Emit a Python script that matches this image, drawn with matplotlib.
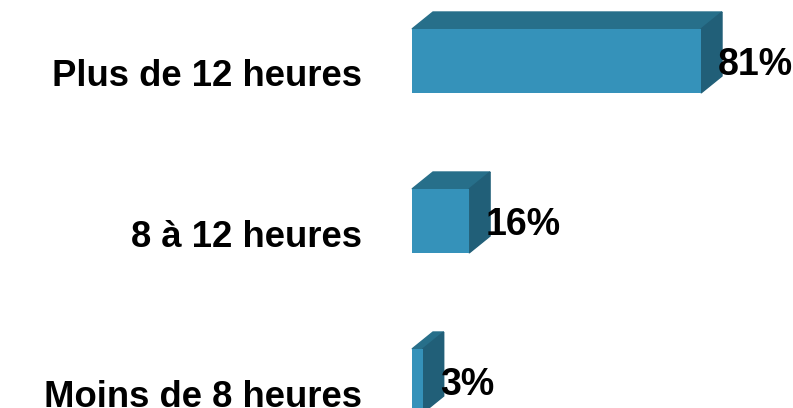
import matplotlib
matplotlib.use("Agg")
import matplotlib.pyplot as plt
from matplotlib.patches import Polygon

categories = ["Plus de 12 heures", "8 à 12 heures", "Moins de 8 heures"]
values = [81, 16, 3]
value_labels = ["81%", "16%", "3%"]

front_color = "#3592ba"
top_color = "#276f8a"
side_color = "#215f78"

plt.rcParams["font.family"] = ["Liberation Sans", "DejaVu Sans"]

fig = plt.figure(figsize=(7.93, 4.08), dpi=100)
ax = fig.add_axes([0, 0, 1, 1])

px_per_x = 3.568   # pixels per percent
px_per_y = 160.0   # pixels per category
x_left = -412 / px_per_x
ax.set_xlim(x_left, x_left + 793 / px_per_x)
y_top = -61 / px_per_y
ax.set_ylim(y_top + 408 / px_per_y, y_top)
ax.axis("off")

h = 64 / px_per_y
dx = 21 / px_per_x
dy = 17 / px_per_y

ypos = list(range(len(categories)))
ax.barh(ypos, values, height=h, color=front_color, zorder=2)

for y, v in zip(ypos, values):
    top = y - h / 2
    bot = y + h / 2
    ax.add_patch(Polygon([(0, top), (v, top), (v + dx, top - dy), (dx, top - dy)],
                         closed=True, color=top_color, zorder=1))
    ax.add_patch(Polygon([(v, top), (v + dx, top - dy), (v + dx, bot - dy), (v, bot)],
                         closed=True, color=side_color, zorder=1))

for y, v, lab, cat in zip(ypos, values, value_labels, categories):
    ax.text(v + 17 / px_per_x, y + 14 / px_per_y, lab, ha="left", va="baseline",
            fontsize=27, fontweight="bold", zorder=3)
    ax.text(-50 / px_per_x, y + 25.5 / px_per_y, cat, ha="right", va="baseline",
            fontsize=26.3, fontweight="bold")

fig.savefig("out.png", dpi=100)
